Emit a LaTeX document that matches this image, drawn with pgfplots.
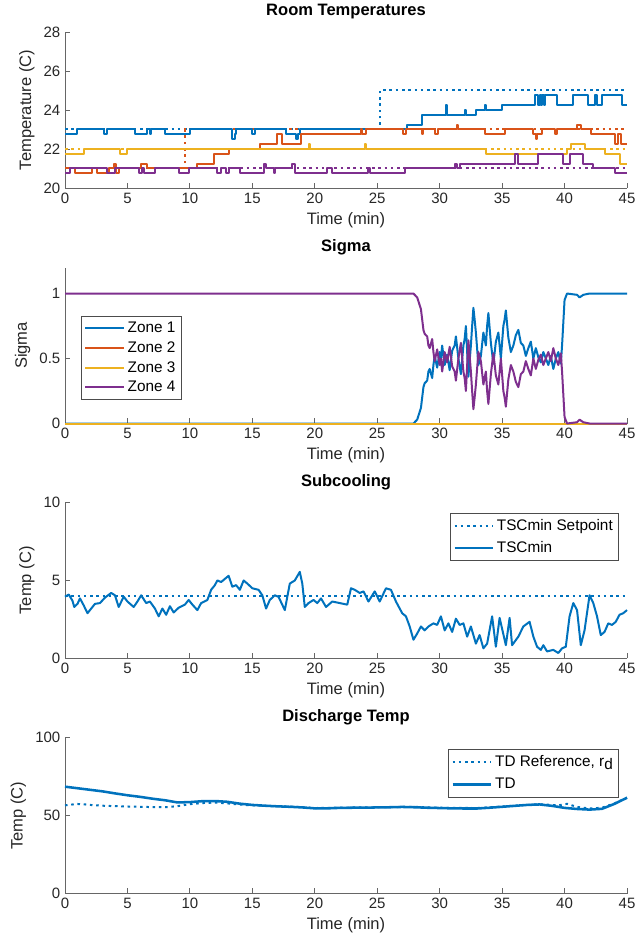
\documentclass[border=0pt]{standalone}
\usepackage{fontspec}
\setmainfont{Liberation Sans}
\usepackage{pgfplots}
\pgfplotsset{compat=1.18}

\definecolor{mblue}{rgb}{0,0.447,0.741}
\definecolor{morange}{rgb}{0.850,0.325,0.098}
\definecolor{myellow}{rgb}{0.929,0.694,0.125}
\definecolor{mpurple}{rgb}{0.494,0.184,0.556}

\pgfplotsset{
  mstyle/.style={
    scale only axis, width=421.5pt, height=117pt,
    anchor=south west,
    axis x line*=bottom, axis y line*=left,
    axis line style={-, black!60, line width=0.6pt},
    xmin=0, xmax=45, xtick={0,5,...,45},
    tick align=inside, major tick length=4pt,
    tick style={black!60, line width=0.6pt},
    ticklabel style={font=\fontsize{11.25}{13}\selectfont, text=black!85},
    label style={font=\fontsize{12.4}{14}\selectfont, text=black!85},
    title style={font=\fontsize{12.4}{14}\selectfont\bfseries, text=black, yshift=0pt},
    xlabel={Time (min)},
    /pgf/number format/assume math mode=true,
    legend cell align=left,
    legend style={font=\fontsize{11.5}{13}\selectfont, draw=black!70, line width=0.5pt,
      inner sep=2.5pt, row sep=0pt},
    legend image code/.code={\draw[#1] (0pt,0pt) -- (29pt,0pt);},
    clip=false,
  },
  dat/.style={line width=1.5pt, line join=round},
  dot/.style={line width=1.5pt, dash pattern=on 1.9pt off 2.8pt},
}

\begin{document}
\begin{tikzpicture}
\useasboundingbox (0,0) rectangle (477pt,708.75pt);

% Room temperatures
\begin{axis}[mstyle, at={(48.75pt,567.75pt)},
  title={Room Temperatures}, ylabel={Temperature (C)},
  ymin=20, ymax=28, ytick={20,22,...,28}]
\addplot[dot, mblue, const plot] coordinates {(0,23) (25.2,25) (45,25)};
\addplot[dot, morange, const plot] coordinates {(0,21) (9.6,23) (45,23)};
\addplot[dot, myellow, const plot] coordinates {(0,22) (45,22)};
\addplot[dot, mpurple, const plot] coordinates {(0,21) (45,21)};
\addplot[dat, mblue, const plot] coordinates {
(0,22.75) (1.0,23) (3.1,22.75) (3.4,23) (5.6,22.75) (6.6,23) (6.8,22.75) (6.9,23)
(8.0,22.75) (10.0,23) (13.4,22.5) (13.6,22.75) (13.7,23) (15.0,22.75) (15.2,23)
(17.7,22.75) (18.5,22.5) (18.65,22.75) (18.8,23) (27.4,23.25) (28.6,23.75)
(30.5,24.25) (30.6,23.75) (32.0,24.0) (32.1,23.75) (32.9,24.0) (33.6,24.25) (33.7,24.0)
(35.0,24.25) (37.6,24.75) (37.9,24.25) (38.0,24.75) (38.1,24.25) (38.2,24.75)
(38.35,24.25) (38.45,24.75) (39.4,24.25) (40.7,24.75) (41.9,24.25) (42.4,24.75)
(42.6,24.25) (43.0,24.75) (44.6,24.25) (45,24.25)};
\addplot[dat, morange, const plot] coordinates {
(0,21) (0.8,20.75) (2.2,21) (2.6,20.75) (3.5,21) (3.9,21.25) (4.1,20.75) (4.3,21)
(6.1,21.25) (6.6,21) (10.6,21.25) (11.9,21.75) (13.1,22.0) (15.6,22.25) (17.0,22.75)
(17.4,22.25) (18.9,22.75) (23.7,23.0) (23.8,22.75) (24.1,23.0) (27.1,22.75) (27.3,23)
(28.6,22.75) (28.7,23) (29.6,22.75) (29.9,23) (31.4,23.25) (31.5,23) (33.6,22.75)
(35.2,23) (37.5,22.75) (37.7,22.5) (37.8,22.75) (38.2,23) (39.2,22.75) (39.4,23)
(41.0,23.25) (41.3,23) (42.1,22.75) (44.0,22.25) (44.3,22.75) (44.5,22.25) (45,22.25)};
\addplot[dat, myellow, const plot] coordinates {
(0,21.75) (1.5,22) (4.4,21.75) (5.0,22) (19.5,22.25) (19.6,22) (24.0,22.25) (24.1,22)
(33.7,21.75) (40.2,22.0) (40.5,22.25) (41.6,22.0) (43.2,21.75) (44.4,21.25) (45,21.25)};
\addplot[dat, mpurple, const plot] coordinates {
(0,20.75) (0.4,21) (3.4,20.75) (4.0,21) (5.9,20.75) (6.2,21) (6.3,20.75) (7.2,21)
(9.1,20.75) (9.9,21) (12.2,20.75) (12.5,21) (12.9,20.75) (13.1,21) (14.0,20.75)
(15.9,21.25) (16.1,21) (16.7,20.75) (16.8,21) (18.2,21.25) (18.4,20.75) (21.0,21)
(21.4,20.75) (24.3,21) (24.4,20.75) (27.2,21) (31.2,21.25) (31.4,21) (31.6,21.25)
(36.0,21.75) (36.3,21.25) (37.9,21.75) (39.9,21.25) (40.4,21.75) (41.5,21.25)
(42.3,21.0) (44.0,20.75) (45,20.75)};
\end{axis}

% Sigma
\begin{axis}[mstyle, at={(48.75pt,391.1pt)},
  title={Sigma}, ylabel={Sigma},
  ymin=0, ymax=1.2, ytick={0,0.5,1},
  legend style={at={(0.028,0.69)}, anchor=north west, row sep=1.2pt}]
\addplot[dat, mblue] coordinates {
(0,0) (27.9,0) (28.2,0.03) (28.5,0.12) (28.7,0.28) (28.8,0.31) (29.0,0.33) (29.1,0.4) (29.2,0.42)
(29.4,0.35) (29.5,0.45) (29.6,0.52) (29.8,0.43) (30.0,0.55) (30.1,0.5) (30.2,0.6) (30.4,0.45) (30.6,0.53)
(30.8,0.41) (31.0,0.56) (31.2,0.6) (31.3,0.67) (31.5,0.5) (31.7,0.38) (31.9,0.6) (32.0,0.65) (32.1,0.75)
(32.3,0.36) (32.5,0.6) (32.6,0.75) (32.7,0.89) (32.8,0.8) (32.9,0.7) (33.1,0.45) (33.3,0.52) (33.5,0.7)
(33.7,0.6) (33.8,0.75) (33.9,0.85) (34.1,0.62) (34.3,0.46) (34.5,0.63) (34.7,0.7) (34.9,0.5)
(35.1,0.75) (35.2,0.8) (35.3,0.87) (35.5,0.66) (35.7,0.55) (35.9,0.6) (36.1,0.68) (36.3,0.72)
(36.5,0.62) (36.7,0.6) (36.9,0.52) (37.1,0.58) (37.3,0.63) (37.5,0.5) (37.7,0.58)
(37.9,0.51) (38.1,0.47) (38.3,0.55) (38.5,0.5) (38.7,0.45) (38.9,0.52) (39.1,0.42)
(39.3,0.5) (39.5,0.55) (39.7,0.46) (39.8,0.6) (40.0,0.95) (40.2,1.0) (41.0,0.99)
(41.2,0.97) (41.5,0.99) (42.0,1.0) (45,1.0)};
\addlegendentry{Zone 1}
\addplot[dat, morange] coordinates {(0,0) (45,0)};
\addlegendentry{Zone 2}
\addplot[dat, myellow] coordinates {(0,0) (45,0)};
\addlegendentry{Zone 3}
\addplot[dat, mpurple] coordinates {
(0,1) (27.9,1) (28.2,0.97) (28.5,0.88) (28.7,0.72) (28.8,0.69) (29.0,0.67) (29.1,0.6) (29.2,0.58)
(29.4,0.65) (29.5,0.55) (29.6,0.48) (29.8,0.57) (30.0,0.45) (30.1,0.5) (30.2,0.4) (30.4,0.55) (30.6,0.47)
(30.8,0.59) (31.0,0.44) (31.2,0.4) (31.3,0.33) (31.5,0.5) (31.7,0.62) (31.9,0.4) (32.0,0.35) (32.1,0.25)
(32.3,0.64) (32.5,0.4) (32.6,0.25) (32.7,0.11) (32.8,0.2) (32.9,0.3) (33.1,0.55) (33.3,0.48) (33.5,0.3)
(33.7,0.4) (33.8,0.25) (33.9,0.15) (34.1,0.38) (34.3,0.54) (34.5,0.37) (34.7,0.3) (34.9,0.5)
(35.1,0.25) (35.2,0.2) (35.3,0.13) (35.5,0.34) (35.7,0.45) (35.9,0.4) (36.1,0.32) (36.3,0.28)
(36.5,0.38) (36.7,0.4) (36.9,0.48) (37.1,0.42) (37.3,0.37) (37.5,0.5) (37.7,0.42)
(37.9,0.49) (38.1,0.53) (38.3,0.45) (38.5,0.5) (38.7,0.55) (38.9,0.48) (39.1,0.58)
(39.3,0.5) (39.5,0.45) (39.7,0.54) (39.8,0.4) (40.0,0.05) (40.2,0) (41.0,0.01)
(41.2,0.03) (41.5,0.01) (42.0,0) (45,0)};
\addlegendentry{Zone 4}
\end{axis}

% Subcooling
\begin{axis}[mstyle, at={(48.75pt,214.9pt)},
  title={Subcooling}, ylabel={Temp (C)},
  ymin=0, ymax=10, ytick={0,5,10},
  legend style={at={(0.986,0.933)}, anchor=north east, row sep=2.5pt}]
\addplot[dot, mblue] coordinates {(0,4) (45,4)};
\addlegendentry{TSCmin Setpoint}
\addplot[dat, mblue] coordinates {
(0,3.96) (0.3,4.1) (0.6,3.7) (0.74,3.3) (1.0,3.5) (1.2,3.85) (1.5,3.4) (1.8,2.9)
(2.1,3.2) (2.4,3.5) (2.8,3.55) (3.2,3.9) (3.7,4.2) (4.0,4.05) (4.3,3.3) (4.7,3.96)
(5.0,3.65) (5.5,3.3) (5.8,3.65) (6.1,4.05) (6.5,3.55) (6.8,3.65) (7.2,3.2) (7.5,2.7)
(7.8,3.2) (8.1,2.8) (8.4,3.35) (8.7,2.95) (9.1,3.25) (9.6,3.45) (9.9,3.75) (10.2,3.45)
(10.6,3.1) (10.9,3.55) (11.4,3.75) (11.7,4.4) (12.0,4.7) (12.2,5.0) (12.5,4.9)
(12.8,5.1) (13.1,5.3) (13.4,4.6) (13.7,4.7) (14.0,4.4) (14.3,5.0) (14.6,4.8) (15.0,4.5)
(15.5,4.4) (15.8,4.05) (16.1,3.2) (16.4,3.75) (16.8,4.05) (17.1,3.95) (17.6,3.1)
(18.0,4.8) (18.4,5.0) (18.8,5.55) (19.0,4.8) (19.2,3.3) (19.5,3.55) (19.9,3.75)
(20.2,3.55) (20.5,3.85) (20.9,3.3) (21.4,3.65) (22.0,3.55) (22.6,3.45) (22.9,4.5)
(23.2,4.4) (23.6,4.2) (23.9,4.3) (24.3,3.65) (24.8,4.3) (25.2,3.65) (25.7,4.5)
(26.1,4.4) (26.5,3.65) (27.0,2.9) (27.3,2.7) (27.6,2.05) (27.9,1.2) (28.2,1.6)
(28.5,2.05) (28.8,1.8) (29.1,2.05) (29.5,2.25) (29.8,2.15) (30.1,2.7) (30.4,1.8)
(30.7,2.25) (31.0,1.7) (31.3,2.55) (31.6,2.15) (31.9,2.25) (32.2,1.4) (32.5,2.05)
(32.9,0.95) (33.2,1.5) (33.5,0.65) (33.8,0.95) (34.2,2.7) (34.5,0.75) (34.8,2.6)
(35.3,0.85) (35.6,2.6) (35.8,0.85) (36.3,1.4) (36.7,2.05) (37.2,2.35) (37.5,1.4)
(37.8,0.75) (38.1,0.55) (38.3,0.85) (38.6,0.45) (39.1,0.55) (39.5,0.35) (39.8,0.65)
(40.1,0.75) (40.4,2.7) (40.7,3.55) (41.0,3.1) (41.3,0.85) (41.6,1.8) (42.0,4.05)
(42.3,3.55) (42.6,2.7) (42.9,1.5) (43.2,1.7) (43.5,2.25) (43.8,2.15) (44.1,2.35)
(44.4,2.8) (44.7,2.9) (45.0,3.1)};
\addlegendentry{TSCmin}
\end{axis}

% Discharge temp
\begin{axis}[mstyle, at={(48.75pt,38.6pt)},
  title={Discharge Temp}, ylabel={Temp (C)},
  ymin=0, ymax=100, ytick={0,50,100},
  legend style={at={(0.986,0.927)}, anchor=north east, row sep=3.5pt}]
\addplot[dot, mblue] coordinates {
(0,56.5) (0.5,57) (1,57.4) (1.5,57.2) (2,56.8) (3,56.3) (4,56.0) (5,55.8) (6,55.6)
(7,55.4) (8,55.3) (9,56.0) (10,57.3) (11,58.0) (12,58.3) (13,57.8) (14,57.0) (15,56.5)
(16,56.2) (18,55.8) (20,54.8) (22,55.1) (25,55.3) (28,55.6) (30,55.0) (33,54.8)
(35,55.8) (38,57.3) (39.5,56.5) (40.2,57.5) (41,55.5) (42,54.5) (43,55) (44,57.8) (45,61.5)};
\addlegendentry{TD Reference, r\raisebox{-0.45ex}{d}}
\addplot[dat, mblue, line width=1.9pt] coordinates {
(0,68.5) (1,67.5) (2,66.5) (3,65.5) (4,64.2) (5,63) (6,62) (7,60.8) (8,59.8) (9,58.4)
(10,58.6) (11,59.2) (12,59.3) (13,58.8) (14,57.6) (15,56.8) (16,56.3) (17,55.9)
(18,55.6) (19,55.2) (20,54.6) (21,54.6) (22,54.9) (23,55.0) (24,55.0) (25,55.2)
(26,55.3) (27,55.5) (28,55.3) (29,55.0) (30,54.8) (31,54.6) (32,54.5) (33,54.5)
(34,55.0) (35,55.6) (36,56.2) (37,56.8) (38,57.1) (39,56.2) (40,54.9) (41,54.2)
(42,53.8) (43,54.3) (44,57.5) (45,61.4)};
\addlegendentry{TD}
\end{axis}
\end{tikzpicture}
\end{document}
